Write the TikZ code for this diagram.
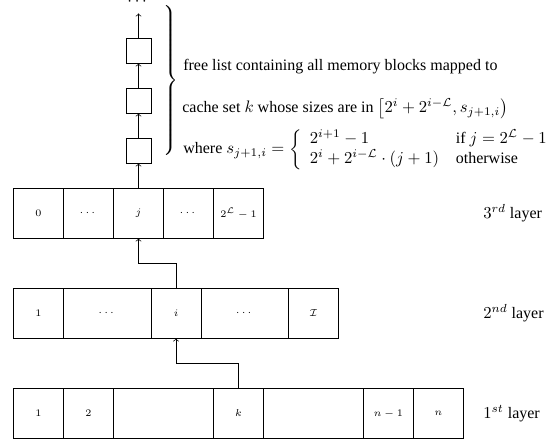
\documentclass[tikz,border=0pt]{standalone}
\usepackage{amsmath}
\usepackage{fontspec}
\setmainfont{Liberation Serif}

\tikzset{
    cell/.style={draw, rectangle, minimum width=30pt, minimum height=30pt,
        inner sep=0pt, outer sep=0pt, font=\fontsize{6}{7}\selectfont},
    freeblk/.style={draw, rectangle, minimum size=15pt, inner sep=0pt, outer sep=0pt},
    txt/.style={anchor=west, inner sep=0pt, font=\fontsize{9.6}{11.5}\selectfont},
}

\begin{document}
\begin{tikzpicture}[x=30pt,y=30pt]
    \useasboundingbox (-0.27,-0.03) rectangle (10.79,8.77);
    % 1st layer
    \node[cell] (a1) at (0.5,0.5) {$1$};
    \node[cell] (a2) at (1.5,0.5) {$2$};
    \node[cell, minimum width=60pt] (a3) at (3,0.5) {};
    \node[cell] (ak) at (4.5,0.5) {$k$};
    \node[cell, minimum width=60pt] (a5) at (6,0.5) {};
    \node[cell] (an1) at (7.5,0.5) {$n-1$};
    \node[cell] (an) at (8.5,0.5) {$n$};
    % 2nd layer
    \node[cell] (b1) at (0.5,2.5) {$1$};
    \node[cell, minimum width=52.5pt] (b2) at (1.875,2.5) {$\cdots$};
    \node[cell] (bi) at (3.25,2.5) {$i$};
    \node[cell, minimum width=52.5pt] (b4) at (4.625,2.5) {$\cdots$};
    \node[cell] (bI) at (6,2.5) {$\mathcal{I}$};
    % 3rd layer
    \node[cell] (c0) at (0.5,4.5) {$0$};
    \node[cell] (c2) at (1.5,4.5) {$\cdots$};
    \node[cell] (cj) at (2.5,4.5) {$j$};
    \node[cell] (c4) at (3.5,4.5) {$\cdots$};
    \node[cell] (cL) at (4.5,4.5) {$2^{\mathcal{L}}-1$};
    % Free list
    \node[freeblk] (f1) at (2.5,5.75) {};
    \node[freeblk] (f2) at (2.5,6.75) {};
    \node[freeblk] (f3) at (2.5,7.75) {};
    \coordinate (ftop) at (2.5,8.5);
    \node (fdots) at (2.5,8.74) {$\cdots$};
    % Arrows
    \draw[->] (ak.north) -- ++(0,0.5) -| (bi.south);
    \draw[->] (bi.north) -- ++(0,0.5) -| (cj.south);
    \draw[->] (cj.north) -- (f1.south);
    \draw[->] (f1.north) -- (f2.south);
    \draw[->] (f2.north) -- (f3.south);
    \draw[->] (f3.north) -- (ftop);
    % Brace and text
    \node[txt] (brace) at (2.95,7.15) {$\left.\vrule height 43pt depth 43pt width 0pt\right\}$};
    \node[txt] (t1) at (3.39,7.43) {free list containing all memory blocks mapped to};
    \node[txt] (t2) at (3.37,6.6) {cache set $k$ whose sizes are in $\bigl[2^i+2^{i-\mathcal{L}}, s_{j+1,i}\bigr)$};
    \node[txt] (t3) at (3.39,5.78) {where $s_{j+1,i} = \left\{ \begin{array}{ll}
        2^{i+1}-1 & \text{if } j=2^{\mathcal{L}}-1\\
        2^i+2^{i-\mathcal{L}}\cdot(j+1) & \text{otherwise}
        \end{array}\right.$};
    % Layer labels
    \node[txt] (l3) at (9.39,4.5) {$3^{rd}$ layer};
    \node[txt] (l2) at (9.39,2.5) {$2^{nd}$ layer};
    \node[txt] (l1) at (9.39,0.5) {$1^{st}$ layer};
\end{tikzpicture}
\end{document}
